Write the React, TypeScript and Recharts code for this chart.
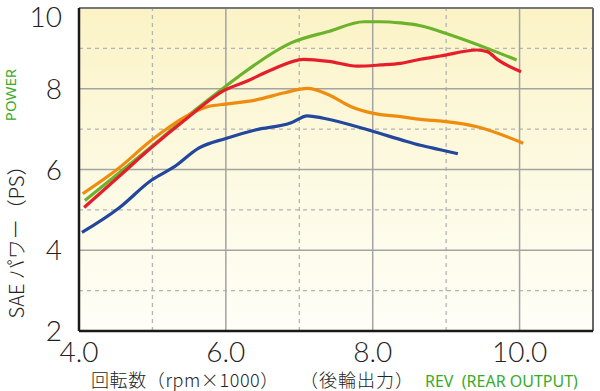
import { Line, LineChart, ReferenceArea, ReferenceLine, XAxis, YAxis } from "recharts";

// rpm x1000 (rear output) vs SAE power (PS)
const greenRpm = [4.08, 4.54, 4.99, 5.45, 5.99, 6.2, 6.88, 7.4, 7.88, 8.11, 8.38, 8.65, 9.06, 9.56, 9.96];
const greenPs = [5.23, 5.91, 6.57, 7.28, 8.05, 8.34, 9.13, 9.42, 9.66, 9.66, 9.63, 9.56, 9.33, 9.0, 8.71];

const redRpm = [4.07, 4.54, 4.99, 5.45, 5.99, 6.3, 6.6, 7.06, 7.4, 7.79, 8.11, 8.38, 8.65, 8.92, 9.42, 9.56, 9.7, 10.02];
const redPs = [5.06, 5.82, 6.55, 7.24, 7.97, 8.2, 8.45, 8.73, 8.68, 8.56, 8.59, 8.63, 8.73, 8.81, 8.96, 8.92, 8.72, 8.42];

const orangeRpm = [4.05, 4.54, 4.99, 5.45, 5.76, 6.0, 6.4, 6.8, 7.11, 7.4, 7.7, 8.01, 8.38, 8.65, 8.97, 9.42, 10.05];
const orangePs = [5.4, 6.03, 6.73, 7.31, 7.56, 7.62, 7.72, 7.9, 8.01, 7.85, 7.56, 7.39, 7.31, 7.24, 7.19, 7.06, 6.65];

const blueRpm = [4.04, 4.54, 4.99, 5.3, 5.63, 6.0, 6.4, 6.88, 7.11, 7.33, 8.01, 8.38, 8.65, 8.92, 9.16];
const bluePs = [4.44, 5.04, 5.74, 6.07, 6.53, 6.77, 6.98, 7.15, 7.33, 7.27, 6.94, 6.74, 6.6, 6.49, 6.39];

const xTicks = [4, 6, 8, 10];
const yTicks = [2, 4, 6, 8, 10];
const solidX = [6, 8, 10];
const dashedX = [5, 7, 9];
const solidY = [4, 6, 8];
const dashedY = [3, 5, 7, 9];

const series = [
  { key: "green", rpm: greenRpm, ps: greenPs, color: "#6cb32c" },
  { key: "orange", rpm: orangeRpm, ps: orangePs, color: "#ef8c0e" },
  { key: "red", rpm: redRpm, ps: redPs, color: "#e61e2b" },
  { key: "blue", rpm: blueRpm, ps: bluePs, color: "#22479d" }
];

const numFont = "Lato, 'Open Sans', sans-serif";
const jpFont = "'Noto Sans CJK JP', 'Noto Sans', sans-serif";

function YTick(props: any) {
  const v = props.payload.value;
  return (
    <text x={62} y={props.y + (v === 10 ? 18 : 10)} textAnchor="end" fontSize={28} fontWeight={300} fill="#222" fontFamily={numFont}>
      {v}
    </text>
  );
}

function XTick(props: any) {
  return (
    <text x={props.x} y={362} textAnchor="middle" fontSize={28} fontWeight={300} fill="#222" fontFamily={numFont}>
      {props.payload.value.toFixed(1)}
    </text>
  );
}

export default function App() {
  return (
    <div style={{ position: "absolute", left: 0, top: 0, width: 600, height: 391, background: "#fff", overflow: "hidden" }}>
      <LineChart width={600} height={391} margin={{ top: 8, right: 7, bottom: 0, left: 0 }}>
        <defs>
          <linearGradient id="bg" x1="0" y1="0" x2="0" y2="1">
            <stop offset="0%" stopColor="#fbf3c6" />
            <stop offset="55%" stopColor="#fdfae4" />
            <stop offset="100%" stopColor="#fffef7" />
          </linearGradient>
        </defs>
        <ReferenceArea x1={4} x2={11} y1={2} y2={10} fill="url(#bg)" fillOpacity={1} stroke="none" />
        <XAxis
          type="number"
          dataKey="rpm"
          domain={[4, 11]}
          ticks={xTicks}
          allowDataOverflow
          tick={<XTick />}
          tickLine={false}
          axisLine={{ stroke: "#1a1a1a", strokeWidth: 2.5 }}
          height={60}
        />
        <YAxis
          type="number"
          dataKey="ps"
          domain={[2, 10]}
          ticks={yTicks}
          allowDataOverflow
          tick={<YTick />}
          tickLine={false}
          axisLine={{ stroke: "#1a1a1a", strokeWidth: 2.5 }}
          width={79}
        />
        {dashedX.map((v) => (
          <ReferenceLine key={"dx" + v} x={v} stroke="#b4b4b4" strokeWidth={1.3} strokeDasharray="4 4" />
        ))}
        {dashedY.map((v) => (
          <ReferenceLine key={"dy" + v} y={v} stroke="#b4b4b4" strokeWidth={1.3} strokeDasharray="4 4" />
        ))}
        {solidX.map((v) => (
          <ReferenceLine key={"sx" + v} x={v} stroke="#a3a3a3" strokeWidth={1.5} />
        ))}
        {solidY.map((v) => (
          <ReferenceLine key={"sy" + v} y={v} stroke="#a3a3a3" strokeWidth={1.5} />
        ))}
        <ReferenceLine x={11} stroke="#666" strokeWidth={2} />
        <ReferenceLine y={10} stroke="#777" strokeWidth={2} />
        {series.map((s) => (
          <Line
            key={s.key}
            data={s.rpm.map((r, i) => ({ rpm: r, ps: s.ps[i] }))}
            dataKey="ps"
            type="monotone"
            stroke={s.color}
            strokeWidth={3.2}
            dot={false}
            isAnimationActive={false}
          />
        ))}
      </LineChart>
      <div style={{ position: "absolute", left: 91, top: 369, lineHeight: "20px", fontFamily: jpFont, fontSize: 18, fontWeight: 300, letterSpacing: 0.6, color: "#222", whiteSpace: "nowrap" }}>
        回転数（rpm×1000）
      </div>
      <div style={{ position: "absolute", left: 300, top: 369, lineHeight: "20px", fontFamily: jpFont, fontSize: 18, fontWeight: 300, letterSpacing: 1, color: "#222", whiteSpace: "nowrap" }}>
        （後輪出力）
      </div>
      <div style={{ position: "absolute", left: 425, top: 373, lineHeight: "16px", fontFamily: "'Noto Sans', sans-serif", fontSize: 16, color: "#3aaa2a", whiteSpace: "pre" }}>
        {"REV  (REAR OUTPUT)"}
      </div>
      <div
        style={{
          position: "absolute",
          left: 15,
          top: 237,
          transform: "translate(-50%, -50%) rotate(-90deg)",
          fontFamily: jpFont,
          fontSize: 20,
          fontWeight: 300,
          color: "#222",
          whiteSpace: "nowrap"
        }}
      >
        SAE パワー（PS）
      </div>
      <div
        style={{
          position: "absolute",
          left: 10,
          top: 95,
          transform: "translate(-50%, -50%) rotate(-90deg)",
          fontFamily: "'Noto Sans', sans-serif",
          fontSize: 15,
          color: "#3aaa2a",
          whiteSpace: "nowrap"
        }}
      >
        POWER
      </div>
    </div>
  );
}
